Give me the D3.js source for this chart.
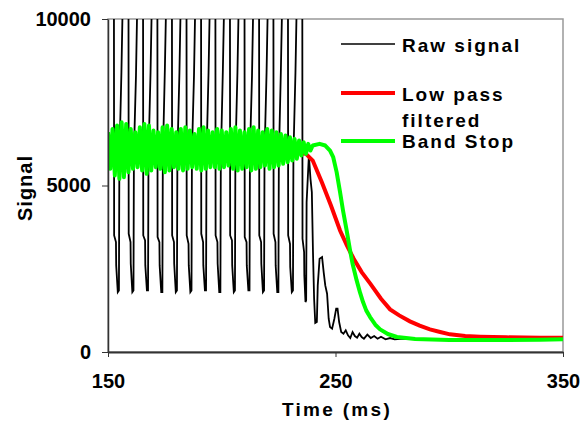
<!DOCTYPE html>
<html>
<head>
<meta charset="utf-8">
<script src="https://cdn.jsdelivr.net/npm/d3@7/dist/d3.min.js"></script>
<style>
  body { margin: 0; background: #fff; }
  text { font-family: "Liberation Sans", Arial, sans-serif; font-weight: bold; fill: #000; }
</style>
</head>
<body>
<div id="container"></div>
<script>
// define constants
const WIDTH = 588;
const HEIGHT = 422;
const LEFT = 108, RIGHT = 563, TOP = 19, BOTTOM = 352;

// axis ticks
const xTicks = [150, 250, 350];
const yTicks = [0, 5000, 10000];

// raw signal [time ms, value] - values above 10000 are clipped off the top
const rawSignal = [
    [150.0, 11000],
    [152.6, 11000], [152.7, 3500], [153.5, 3300], [153.6, 2600], [154.3, 1800], [154.8, 1850], [155.0, 5800], [155.9, 8400], [156.6, 11000],
    [159.0, 11000], [159.1, 3550], [159.9, 3300], [160.0, 2650], [160.7, 1800], [161.2, 1850], [161.4, 6000], [162.3, 8300], [163.0, 11000],
    [165.4, 11000], [165.5, 3500], [166.3, 3350], [166.4, 2600], [167.1, 1850], [167.6, 1850], [167.8, 5900], [168.7, 8400], [169.4, 11000],
    [171.7, 11000], [171.8, 3450], [172.6, 3300], [172.7, 2600], [173.4, 1800], [173.9, 1800], [174.1, 5800], [175.0, 8500], [175.7, 11000],
    [178.1, 11000], [178.2, 3500], [179.0, 3300], [179.1, 2650], [179.8, 1800], [180.3, 1850], [180.5, 5900], [181.4, 8400], [182.1, 11000],
    [184.5, 11000], [184.6, 3500], [185.4, 3250], [185.5, 2600], [186.2, 1800], [186.7, 1850], [186.9, 6000], [187.8, 8300], [188.5, 11000],
    [190.9, 11000], [191.0, 3550], [191.8, 3300], [191.9, 2600], [192.6, 1850], [193.1, 1850], [193.3, 5900], [194.2, 8400], [194.9, 11000],
    [197.2, 11000], [197.3, 3500], [198.1, 3300], [198.2, 2650], [198.9, 1800], [199.4, 1800], [199.6, 5800], [200.5, 8500], [201.2, 11000],
    [203.6, 11000], [203.7, 3500], [204.5, 3350], [204.6, 2600], [205.3, 1800], [205.8, 1850], [206.0, 5900], [206.9, 8400], [207.6, 11000],
    [210.0, 11000], [210.1, 3450], [210.9, 3300], [211.0, 2600], [211.7, 1850], [212.2, 1850], [212.4, 6000], [213.3, 8300], [214.0, 11000],
    [216.4, 11000], [216.5, 3500], [217.3, 3300], [217.4, 2650], [218.1, 1800], [218.6, 1850], [218.8, 5900], [219.7, 8400], [220.4, 11000],
    [222.7, 11000], [222.8, 3550], [223.6, 3300], [223.7, 2600], [224.4, 1800], [224.9, 1800], [225.1, 5800], [226.0, 8500], [226.7, 11000],
    [229.1, 11000], [229.2, 3500], [230.0, 3250], [230.1, 2550], [230.8, 1800], [231.3, 1850], [231.5, 5900], [232.4, 8400], [233.1, 11000],
    [235.4, 11000], [235.5, 3400], [236.2, 3000], [236.3, 2300], [236.8, 1500], [237.1, 1550], [237.3, 4500], [238.3, 5900],
    [239.0, 5200], [239.6, 4800], [240.1, 3000], [240.6, 1600], [241.1, 870], [241.8, 900], [242.2, 2000], [243.0, 2800],
    [244.1, 2850], [244.8, 2400], [245.5, 2000], [246.3, 1750], [247.0, 1000], [247.6, 750], [248.5, 700], [249.5, 1000],
    [250.3, 1300], [250.9, 1300], [251.6, 900], [252.5, 600], [253.5, 550], [254.5, 650], [255.5, 500], [256.5, 420],
    [257.5, 600], [258.5, 480], [259.5, 430], [260.5, 550], [261.5, 450], [262.5, 400], [264.0, 520], [265.5, 420],
    [267.0, 480], [268.5, 400], [270.0, 460], [272.0, 380], [274.0, 420], [276.0, 380], [280.0, 400], [290.0, 380],
    [300.0, 370], [320.0, 370], [340.0, 380], [350.0, 380]
];

// low pass filtered [time ms, value]
const lowPass = [
    [150, 6050], [200, 6050], [230, 6000], [237, 5950], [240, 5750], [244, 5100], [248, 4400],
    [252, 3650], [255, 3200], [258, 2800], [261.5, 2400], [265.2, 2060], [270, 1600], [274, 1280],
    [278, 1100], [282.7, 920], [287, 790], [291.5, 680], [296, 600], [300.3, 530], [307, 480],
    [313.5, 460], [325, 440], [340, 430], [350, 430]
];

// band stop [time ms, value]
const bandStop = [
    [150, 6600], [151, 5500], [152, 6700], [153, 5300], [154, 6800], [155, 5200], [156, 6900], [157, 5250],
    [158, 6850], [159, 5400], [160, 6700], [161, 5500], [162, 6600], [163, 5550], [164, 6750], [165, 5450],
    [166, 6850], [167, 5350], [168, 6800], [169, 5450], [170, 6650], [171, 5550], [172, 6600], [173, 5500],
    [174, 6750], [175, 5400], [176, 6800], [177, 5450], [178, 6700], [179, 5550], [180, 6600], [181, 5500],
    [182, 6700], [183, 5450], [184, 6750], [185, 5500], [186, 6650], [187, 5550], [188, 6550], [189, 5500],
    [190, 6700], [191, 5450], [192, 6750], [193, 5500], [194, 6650], [195, 5550], [196, 6600], [197, 5550],
    [198, 6700], [199, 5500], [200, 6650], [201, 5550], [202, 6600], [203, 5600], [204, 6700], [205, 5500],
    [206, 6750], [207, 5450], [208, 6650], [209, 5500], [210, 6600], [211, 5550], [212, 6700], [213, 5450],
    [214, 6750], [215, 5500], [216, 6650], [217, 5550], [218, 6600], [219, 5600], [220, 6700], [221, 5500],
    [222, 6650], [223, 5550], [224, 6600], [225, 5600], [226, 6550], [227, 5650], [228, 6500], [229, 5700],
    [230, 6450], [231, 5750], [232, 6400], [233, 5800], [234, 6350], [235, 5900], [236, 6300], [237, 5950],
    [238, 6250], [239, 6050], [240, 6200], [243, 6250], [245.5, 6200], [247.6, 6050], [249, 5850],
    [250.5, 5400], [252, 4800], [253.3, 4250], [254.9, 3650], [256.4, 3050], [257.5, 2650], [259.3, 2150],
    [260.8, 1780], [262.1, 1500], [263.5, 1250], [265.2, 1050], [267.5, 820], [269.6, 680], [273, 540],
    [277, 450], [285, 390], [300, 360], [320, 360], [340, 370], [350, 380]
];

const seriesNames = ["Raw signal", "Low pass", "Band Stop"];

// create svg element
const canvas = d3.select("#container")
    .append("svg")
    .attr("width", WIDTH)
    .attr("height", HEIGHT);

const xScale = d3.scaleLinear()
    .domain([150, 350])
    .range([LEFT, RIGHT]);

const yScale = d3.scaleLinear()
    .domain([0, 10000])
    .range([BOTTOM, TOP]);

// clip lines to the plot area
canvas.append("clipPath")
    .attr("id", "plot")
    .append("rect")
    .attr("x", LEFT)
    .attr("y", TOP)
    .attr("width", RIGHT - LEFT)
    .attr("height", BOTTOM - TOP);

// plot frame
canvas.append("rect")
    .attr("x", LEFT)
    .attr("y", TOP)
    .attr("width", RIGHT - LEFT)
    .attr("height", BOTTOM - TOP)
    .attr("fill", "none")
    .attr("stroke", "#999")
    .attr("stroke-width", 1.5);

const line = d3.line()
    .x((d) => xScale(d[0]))
    .y((d) => yScale(d[1]));

const plot = canvas.append("g").attr("clip-path", "url(#plot)");

plot.append("path")
    .datum(rawSignal)
    .attr("d", line)
    .attr("fill", "none")
    .attr("stroke", "#000")
    .attr("stroke-width", 1.8);

plot.append("path")
    .datum(lowPass)
    .attr("d", line)
    .attr("fill", "none")
    .attr("stroke", "#ff0000")
    .attr("stroke-width", 4);

plot.append("path")
    .datum(bandStop)
    .attr("d", line)
    .attr("fill", "none")
    .attr("stroke", "#00ff00")
    .attr("stroke-width", 4)
    .attr("stroke-linejoin", "round");

// create x axis
const bottomAxis = d3.axisBottom(xScale)
    .tickValues(xTicks)
    .tickSize(5)
    .tickSizeOuter(0)
    .tickPadding(17)
    .tickFormat(d3.format("d"));

const gx = canvas.append("g")
    .attr("transform", "translate(0, " + BOTTOM + ")")
    .call(bottomAxis);
gx.select(".domain").attr("stroke", "#333").attr("stroke-width", 2);
gx.selectAll(".tick line").attr("stroke", "#333");
gx.selectAll("text")
    .style("font-size", "20px")
    .style("font-family", "'Liberation Sans', Arial, sans-serif")
    .style("font-weight", "bold")
    .attr("fill", "#000");

// create y axis
const leftAxis = d3.axisLeft(yScale)
    .tickValues(yTicks)
    .tickSize(6)
    .tickSizeOuter(0)
    .tickPadding(11)
    .tickFormat(d3.format("d"));

const gy = canvas.append("g")
    .attr("transform", "translate(" + LEFT + ", 0)")
    .call(leftAxis);
gy.select(".domain").attr("stroke", "#333").attr("stroke-width", 1.5);
gy.selectAll(".tick line").attr("stroke", "#333");
gy.selectAll("text")
    .style("font-size", "20px")
    .style("font-family", "'Liberation Sans', Arial, sans-serif")
    .style("font-weight", "bold")
    .attr("fill", "#000");

// label x axis
canvas.append("text")
    .attr("x", 337)
    .attr("y", 416)
    .attr("text-anchor", "middle")
    .style("font-size", "19px")
    .style("letter-spacing", "2.3px")
    .text("Time (ms)");

// label y axis
canvas.append("text")
    .attr("transform", "translate(32, 188) rotate(-90)")
    .attr("text-anchor", "middle")
    .style("font-size", "20px")
    .style("letter-spacing", "1px")
    .text("Signal");

// legend
const legend = [
    { name: seriesNames[0], color: "#000", width: 1.5, y: 44, lines: ["Raw signal"], ty: 52 },
    { name: seriesNames[1], color: "#ff0000", width: 4, y: 93, lines: ["Low pass", "filtered"], ty: 101 },
    { name: seriesNames[2], color: "#00ff00", width: 4, y: 141, lines: ["Band Stop"], ty: 148 }
];

legend.forEach((d) => {
    canvas.append("line")
        .attr("x1", 341).attr("x2", 395)
        .attr("y1", d.y).attr("y2", d.y)
        .attr("stroke", d.color)
        .attr("stroke-width", d.width);
    d.lines.forEach((t, i) => {
        canvas.append("text")
            .attr("x", 402)
            .attr("y", d.ty + i * 26)
            .style("font-size", "19px")
            .style("letter-spacing", "2px")
            .text(t);
    });
});
</script>
</body>
</html>
